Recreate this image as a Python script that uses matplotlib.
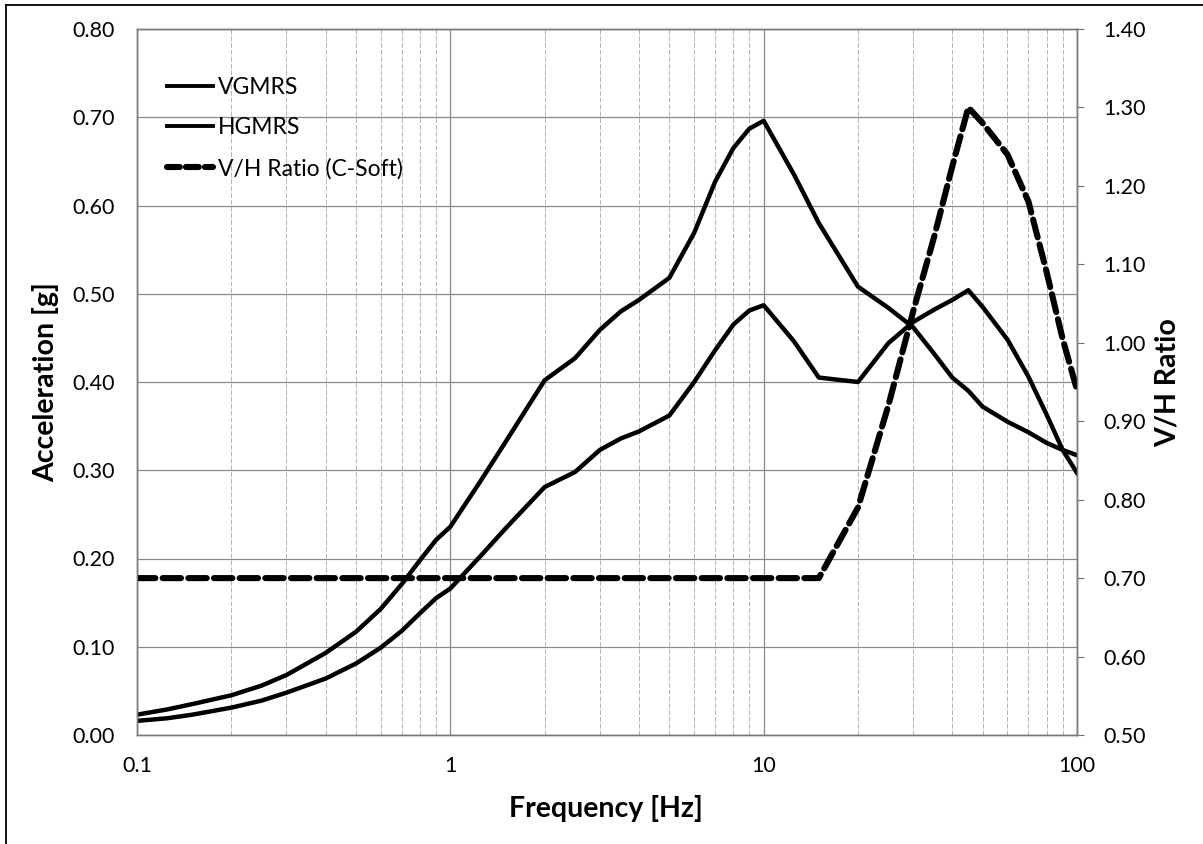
import matplotlib
matplotlib.use('Agg')
import matplotlib.pyplot as plt
from matplotlib.lines import Line2D
from matplotlib.ticker import FixedLocator, FixedFormatter, NullFormatter

# ---------------- data ----------------
freq = [0.1, 0.125, 0.15, 0.2, 0.25, 0.3, 0.4, 0.5, 0.6, 0.7, 0.8, 0.9,
        1.0, 1.25, 1.5, 2.0, 2.5, 3.0, 3.5, 4.0, 5.0, 6.0, 7.0, 8.0, 9.0,
        10.0, 12.5, 15.0, 20.0, 25.0, 30.0, 35.0, 40.0, 45.0, 50.0, 60.0,
        70.0, 80.0, 90.0, 100.0]

hgmrs = [0.023, 0.029, 0.035, 0.045, 0.056, 0.068, 0.093, 0.117, 0.143,
         0.171, 0.198, 0.221, 0.236, 0.288, 0.332, 0.402, 0.427, 0.459,
         0.480, 0.493, 0.518, 0.569, 0.627, 0.665, 0.687, 0.696, 0.635,
         0.580, 0.508, 0.484, 0.462, 0.432, 0.405, 0.390, 0.372, 0.355,
         0.343, 0.331, 0.323, 0.317]

vgmrs = [0.016, 0.019, 0.023, 0.031, 0.039, 0.048, 0.064, 0.081, 0.099,
         0.118, 0.138, 0.155, 0.166, 0.203, 0.234, 0.281, 0.298, 0.323,
         0.336, 0.344, 0.362, 0.400, 0.436, 0.465, 0.481, 0.487, 0.446,
         0.405, 0.400, 0.444, 0.468, 0.482, 0.493, 0.504, 0.485, 0.448,
         0.406, 0.363, 0.323, 0.297]

vh_ratio = [0.70, 0.70, 0.70, 0.70, 0.70, 0.70, 0.70, 0.70, 0.70, 0.70,
            0.70, 0.70, 0.70, 0.70, 0.70, 0.70, 0.70, 0.70, 0.70, 0.70,
            0.70, 0.70, 0.70, 0.70, 0.70, 0.70, 0.70, 0.70, 0.79, 0.92,
            1.04, 1.135, 1.225, 1.30, 1.28, 1.24, 1.18, 1.09, 1.005, 0.94]

series_labels = ['VGMRS', 'HGMRS', 'V/H Ratio (C-Soft)']
x_ticks = [0.1, 1, 10, 100]
x_tick_labels = ['0.1', '1', '10', '100']
left_ticks = [0.0, 0.1, 0.2, 0.3, 0.4, 0.5, 0.6, 0.7, 0.8]
right_ticks = [0.5, 0.6, 0.7, 0.8, 0.9, 1.0, 1.1, 1.2, 1.3, 1.4]

# ---------------- figure ----------------
plt.rcParams['font.family'] = ['Lato', 'DejaVu Sans']

W, H = 1203, 844
fig = plt.figure(figsize=(W / 100, H / 100), dpi=100)
L, R, T, B = 137, 1077, 29, 735
ax = fig.add_axes([L / W, 1 - B / H, (R - L) / W, (B - T) / H])
ax2 = ax.twinx()

ax.set_xscale('log')
ax.set_xlim(0.1, 100)
ax.set_ylim(0, 0.8)
ax2.set_ylim(0.5, 1.4)

# grid
ax.set_axisbelow(True)
ax.xaxis.set_major_locator(FixedLocator(x_ticks))
ax.xaxis.set_major_formatter(FixedFormatter(x_tick_labels))
ax.xaxis.set_minor_locator(FixedLocator(
    [m * d for d in (0.1, 1, 10) for m in range(2, 10)]))
ax.xaxis.set_minor_formatter(NullFormatter())
ax.yaxis.set_major_locator(FixedLocator(left_ticks))
ax.set_yticklabels([f'{v:.2f}' for v in left_ticks])
ax2.yaxis.set_major_locator(FixedLocator(right_ticks))
ax2.set_yticklabels([f'{v:.2f}' for v in right_ticks])

ax.grid(True, which='major', axis='both', color='#8a8a8a', lw=0.9)
ax.grid(True, which='minor', axis='x', color='#b4b4b4', lw=0.7,
        linestyle=(0, (5, 2)))

ax.tick_params(axis='x', which='major', length=0, pad=15, labelsize=15.5)
ax.tick_params(axis='x', which='minor', length=0)
ax.tick_params(axis='y', which='major', length=0, pad=16, labelsize=15.5)
ax2.tick_params(axis='y', which='major', length=5, width=0.8,
                color='#707070', pad=14, labelsize=15.5)

for sp in list(ax.spines.values()) + list(ax2.spines.values()):
    sp.set_color('#7a7a7a')
    sp.set_linewidth(1.0)

# curves
l_v, = ax.plot(freq, vgmrs, color='black', lw=3.2, solid_joinstyle='round')
l_h, = ax.plot(freq, hgmrs, color='black', lw=3.2, solid_joinstyle='round')
l_r, = ax2.plot(freq, vh_ratio, color='black', lw=4.4,
                dashes=(3.0, 1.2), dash_capstyle='round')

# legend
handles = [Line2D([], [], color='black', lw=2.8),
           Line2D([], [], color='black', lw=2.8),
           Line2D([], [], color='black', lw=4.4, dashes=(2.1, 1.0),
                  dash_capstyle='round')]
leg = ax2.legend(handles, series_labels, loc='upper left',
                 bbox_to_anchor=(167 / W, 1 - 77 / H),
                 bbox_transform=fig.transFigure, frameon=False,
                 fontsize=16.5, handlelength=2.0, handletextpad=0.22,
                 labelspacing=0.85, borderpad=0, borderaxespad=0)

# axis titles
fig.text(46 / W, 1 - 382 / H, 'Acceleration [g]', rotation=90,
         ha='center', va='center', fontsize=20.5, fontweight='bold')
fig.text(1168 / W, 1 - 383 / H, 'V/H Ratio', rotation=90,
         ha='center', va='center', fontsize=20.5, fontweight='bold')
fig.text(606 / W, 1 - 808 / H, 'Frequency [Hz]',
         ha='center', va='center', fontsize=20.5, fontweight='bold')

# outer frame (left & top visible in the scan)
fig.add_artist(Line2D([6 / W, 6 / W], [0, 1 - 5 / H], color='black',
                      lw=1.3, transform=fig.transFigure))
fig.add_artist(Line2D([6 / W, 1], [1 - 5 / H, 1 - 5 / H], color='black',
                      lw=1.3, transform=fig.transFigure))

fig.savefig('out.png', dpi=100)
